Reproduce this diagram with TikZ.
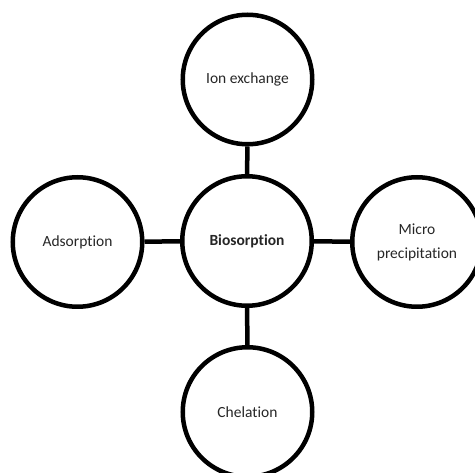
\documentclass[tikz,border=0pt]{standalone}
\usepackage{fontspec}
\setmainfont[Ligatures=NoCommon]{Carlito}
\begin{document}
\begin{tikzpicture}[x=1pt,y=-1pt,
  bubble/.style={circle,draw=black,line width=4.5pt,minimum size=129.5pt,inner sep=0pt,
    align=center,font=\fontsize{15.5}{24}\selectfont,text=black!85},
  link/.style={line width=4.5pt,draw=black}]
\useasboundingbox (0,0) rectangle (475,473);
\node[bubble,font=\fontsize{15.5}{24}\selectfont\bfseries] (bio) at (247,241) {Biosorption};
\node[bubble] (ion) at (247.5,79.5) {Ion exchange};
\node[bubble] (ads) at (77.5,242) {Adsorption};
\node[bubble] (mic) at (417,242) {Micro\\precipitation};
\node[bubble] (che) at (247.5,412) {Chelation};
\draw[link] (bio) -- (ion);
\draw[link] (bio) -- (ads);
\draw[link] (bio) -- (mic);
\draw[link] (bio) -- (che);
\end{tikzpicture}
\end{document}
